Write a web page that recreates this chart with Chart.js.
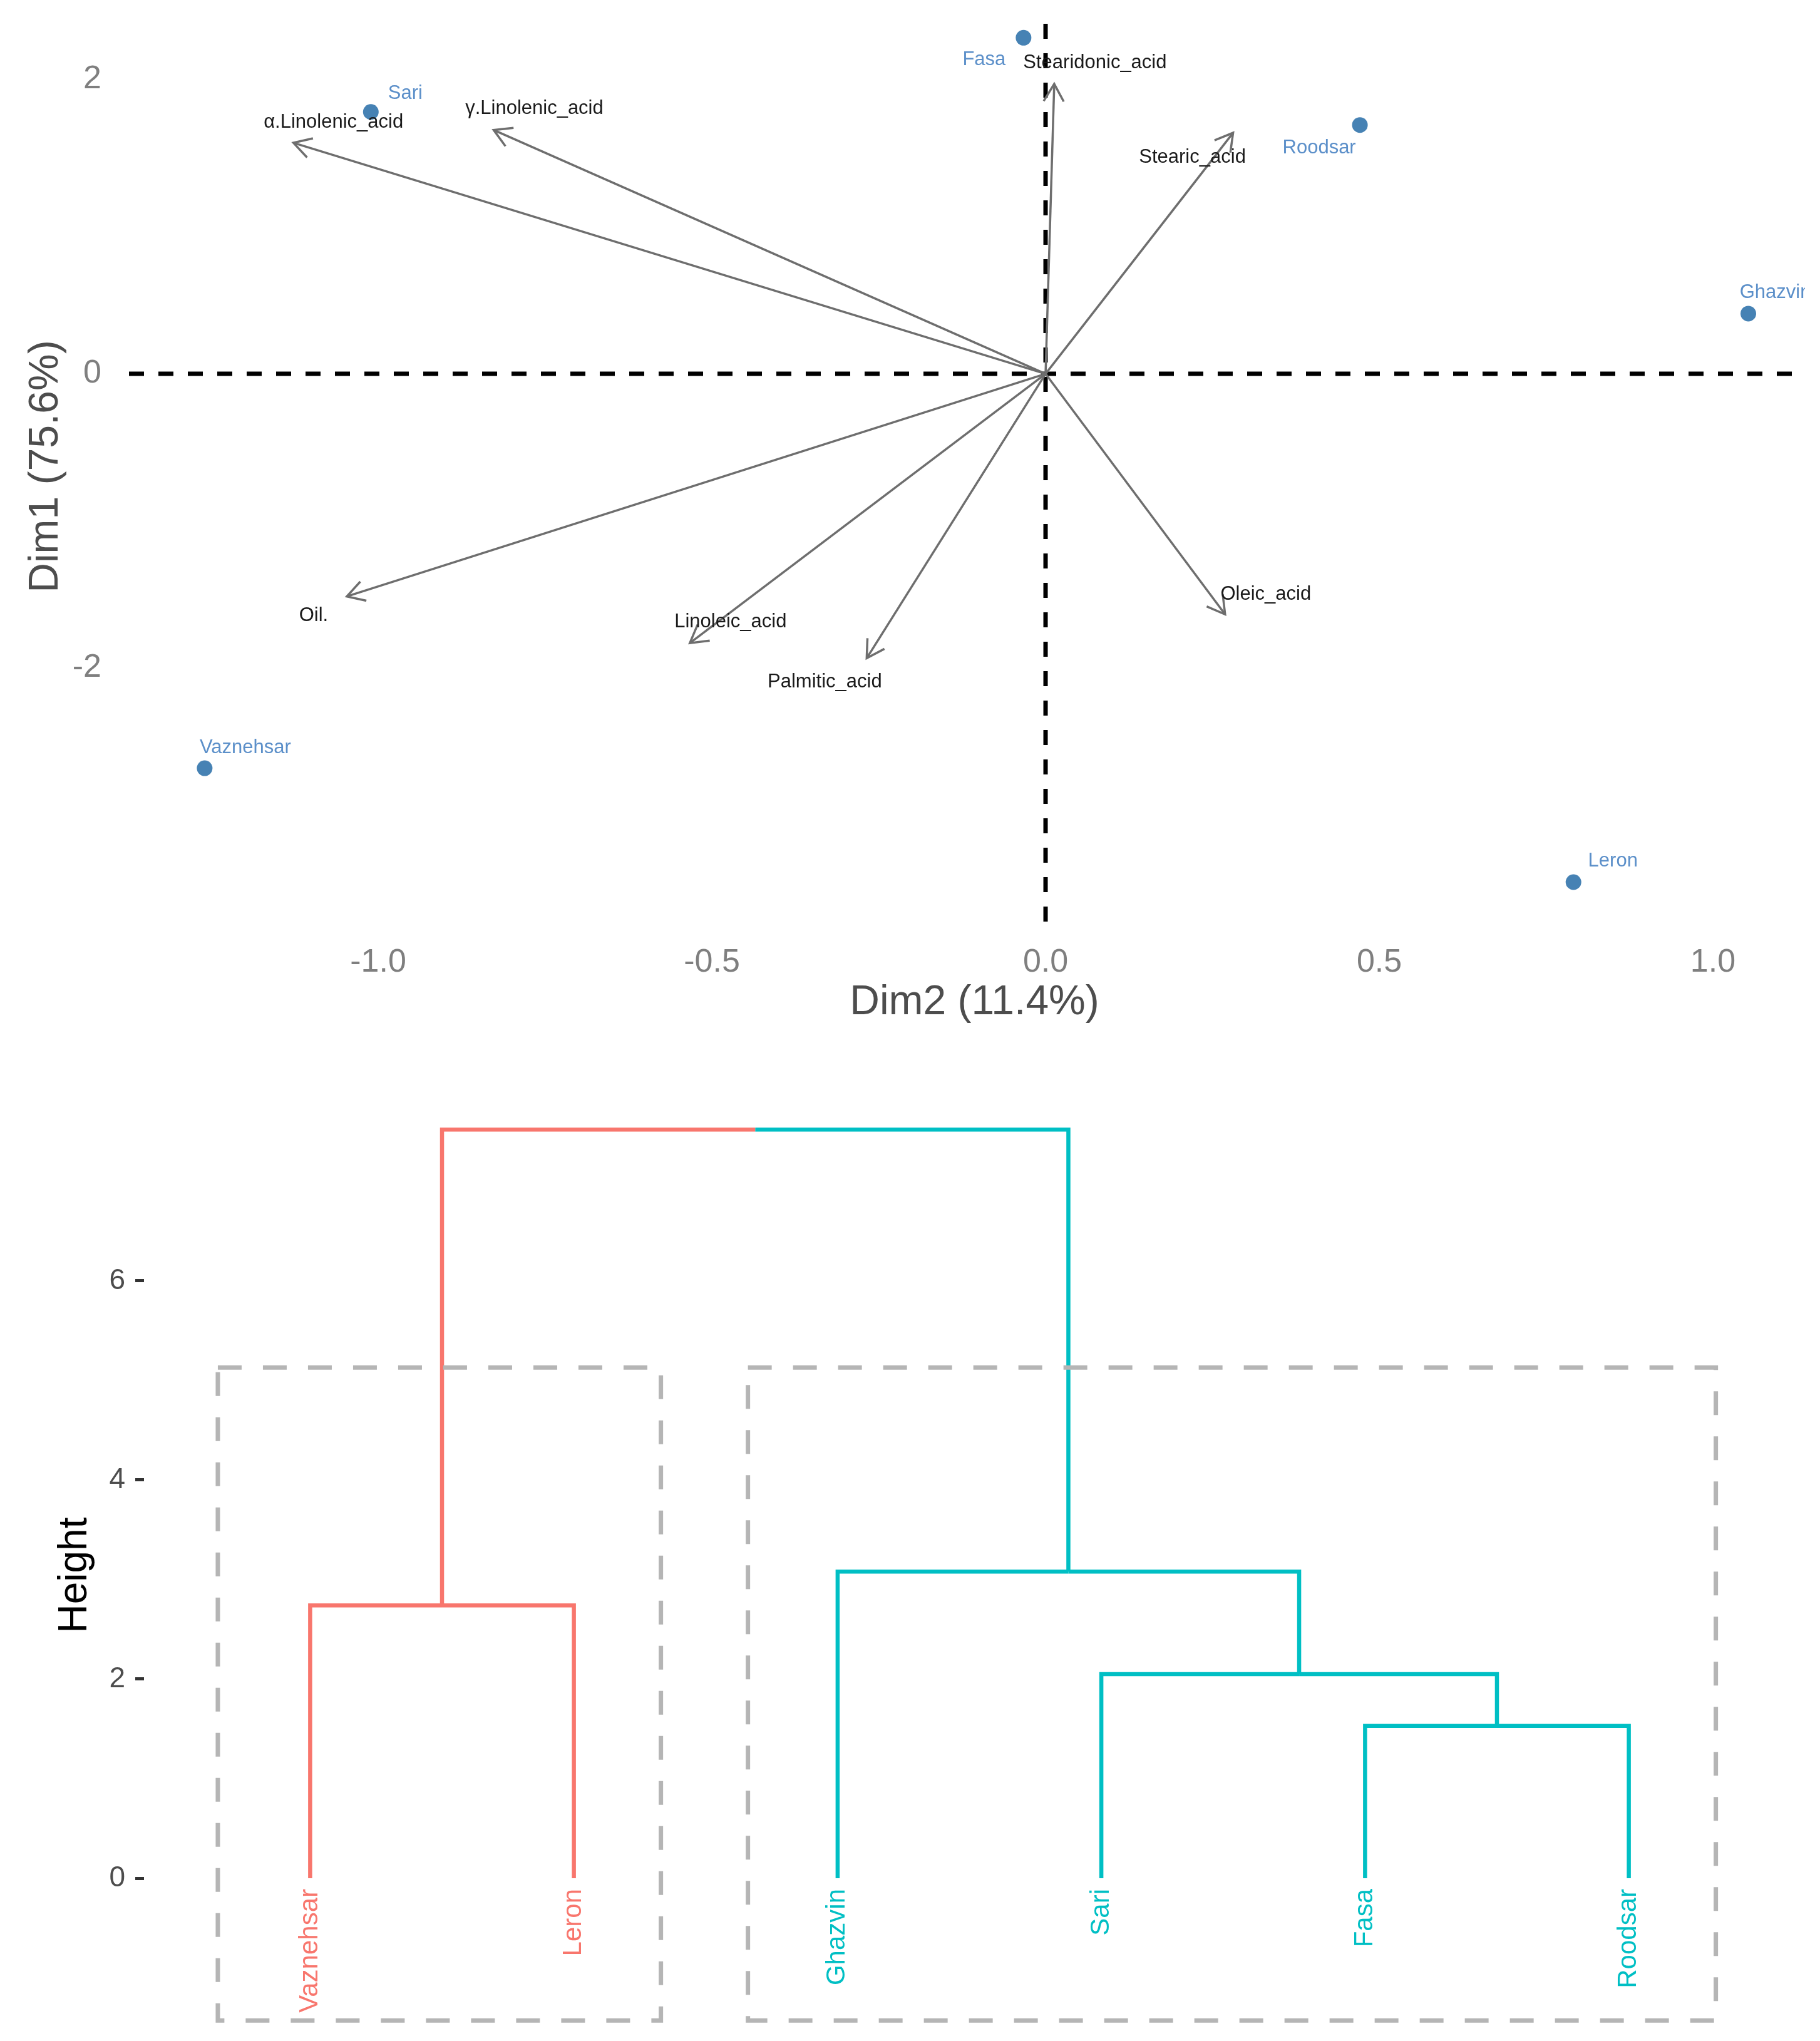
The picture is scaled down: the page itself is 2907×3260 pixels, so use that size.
<!DOCTYPE html>
<html>
<head>
<meta charset="utf-8">
<script src="https://cdn.jsdelivr.net/npm/chart.js@4.4.0/dist/chart.umd.min.js"></script>
<style>
  body { margin: 0; background: #fff; }
  #biplotBox { position: absolute; left: 0; top: 0; }
  #dendroBox { position: absolute; left: 0; top: 1680px; }
</style>
</head>
<body>
<div id="biplotBox"><canvas id="biplot" width="2907" height="1680"></canvas></div>
<div id="dendroBox"><canvas id="dendro" width="2907" height="1580"></canvas></div>
<script>
// PCA BIPLOT DATA
const sites = ["Sari", "Fasa", "Roodsar", "Ghazvin", "Vaznehsar", "Leron"];
const siteDim2 = [-1.011, -0.033, 0.471, 1.053, -1.260, 0.791];
const siteDim1 = [1.780, 2.284, 1.691, 0.409, -2.681, -3.455];

const traits = ["α.Linolenic_acid", "γ.Linolenic_acid", "Stearidonic_acid", "Stearic_acid", "Oil.", "Linoleic_acid", "Palmitic_acid", "Oleic_acid"];
const traitDim2 = [-1.127, -0.827, 0.013, 0.281, -1.047, -0.533, -0.268, 0.269];
const traitDim1 = [1.570, 1.657, 1.970, 1.638, -1.513, -1.830, -1.933, -1.635];

const dim2Ticks = [-1.0, -0.5, 0.0, 0.5, 1.0];
const dim1Ticks = [-2, 0, 2];

// DENDROGRAM DATA
const leaves = ["Vaznehsar", "Leron", "Ghazvin", "Sari", "Fasa", "Roodsar"];
const leafCluster = [0, 0, 1, 1, 1, 1];
// hclust style merges: negative = leaf number, positive = earlier merge row, then height
const merges = [[-5, -6, 1.53], [-4, 1, 2.05], [-1, -2, 2.74], [-3, 2, 3.08], [3, 4, 7.52]];
const heightTicks = [0, 2, 4, 6];
const clusterLeft = [0.65, 2.66];
const clusterRight = [2.33, 6.33];
const clusterTop = [5.13, 5.13];
const clusterBottom = [-1.43, -1.43];

// styles / layout
const FONT = "'Liberation Sans', Arial, sans-serif";
const clusterColors = ['#F8766D', '#00BFC4'];
const arrowColor = '#6e6e6e';
const pointColor = '#4682B4';
const pointLabelColor = '#5b8fc9';
// label nudges in pixels (label centre relative to arrow tip / point)
const traitLabelShift = [[64, -33], [65, -34], [65, -34], [-65, 39], [-53, 31], [65, -34], [-67, 38], [65, -32]];
const siteLabelShift = [[55, -29], [-63, 35], [-65, 37], [43, -33], [65, -33], [63, -34]];

const dim2Min = -1.3734, dim2Max = 1.1604, panelRight = 1.1379;
const dim1Min = -3.723, dim1Max = 2.464;

// keep the plot panel exactly where the layout padding puts it
function noPadX(s) { s.paddingLeft = 0; s.paddingRight = 0; }
function noPadY(s) { s.paddingTop = 0; s.paddingBottom = 0; }

const biplotLabels = {
  id: 'biplotLabels',
  afterDatasetsDraw(chart) {
    const ctx = chart.ctx;
    const x = chart.scales.x, y = chart.scales.y;
    const area = chart.chartArea;
    const clipRight = x.getPixelForValue(panelRight);
    ctx.save();
    ctx.beginPath();
    ctx.rect(area.left, area.top, clipRight - area.left, area.bottom - area.top);
    ctx.clip();

    // arrow heads
    const ox = x.getPixelForValue(0), oy = y.getPixelForValue(0);
    ctx.strokeStyle = arrowColor;
    ctx.lineWidth = 3.5;
    ctx.lineCap = 'butt';
    traits.forEach((name, i) => {
      const tx = x.getPixelForValue(traitDim2[i]);
      const ty = y.getPixelForValue(traitDim1[i]);
      const a = Math.atan2(ty - oy, tx - ox);
      const len = 32, spread = Math.PI / 6;
      ctx.beginPath();
      ctx.moveTo(tx - len * Math.cos(a - spread), ty - len * Math.sin(a - spread));
      ctx.lineTo(tx, ty);
      ctx.lineTo(tx - len * Math.cos(a + spread), ty - len * Math.sin(a + spread));
      ctx.stroke();
    });

    ctx.font = '31px ' + FONT;
    ctx.textAlign = 'center';
    ctx.textBaseline = 'middle';
    ctx.fillStyle = '#1a1a1a';
    traits.forEach((name, i) => {
      const tx = x.getPixelForValue(traitDim2[i]);
      const ty = y.getPixelForValue(traitDim1[i]);
      ctx.fillText(name, tx + traitLabelShift[i][0], ty + traitLabelShift[i][1]);
    });
    ctx.fillStyle = pointLabelColor;
    sites.forEach((name, i) => {
      const px = x.getPixelForValue(siteDim2[i]);
      const py = y.getPixelForValue(siteDim1[i]);
      ctx.fillText(name, px + siteLabelShift[i][0], py + siteLabelShift[i][1]);
    });
    ctx.restore();
  }
};

const biplotCtx = document.getElementById('biplot').getContext('2d');
const biplotChart = new Chart(biplotCtx, {
  type: 'scatter',
  data: {
    datasets: [
      {
        label: 'sites',
        data: sites.map((s, i) => ({x: siteDim2[i], y: siteDim1[i]})),
        backgroundColor: pointColor,
        borderWidth: 0,
        pointRadius: 12.5,
        order: 1,
      },
      ...traits.map((t, i) => ({
        label: t,
        data: [{x: 0, y: 0}, {x: traitDim2[i], y: traitDim1[i]}],
        showLine: true,
        borderColor: arrowColor,
        borderWidth: 3.5,
        pointRadius: 0,
        order: 2,
      })),
      {
        label: 'hline',
        data: [{x: dim2Min, y: 0}, {x: panelRight, y: 0}],
        showLine: true,
        borderColor: '#000',
        borderWidth: 7,
        borderDash: [24, 23],
        pointRadius: 0,
        order: 3,
      },
      {
        label: 'vline',
        data: [{x: 0, y: dim1Min}, {x: 0, y: dim1Max}],
        showLine: true,
        borderColor: '#000',
        borderWidth: 7,
        borderDash: [24, 23],
        pointRadius: 0,
        order: 3,
      },
    ],
  },
  options: {
    responsive: false,
    animation: false,
    devicePixelRatio: 1,
    layout: { autoPadding: false, padding: { top: 18, right: 0, bottom: 0, left: 0 } },
    plugins: { legend: { display: false }, tooltip: { enabled: false } },
    scales: {
      x: {
        type: 'linear',
        min: dim2Min,
        max: dim2Max,
        grid: { display: false },
        border: { display: false },
        afterBuildTicks: s => { s.ticks = dim2Ticks.map(v => ({value: v})); },
        afterFit: s => { s.height = 208; noPadX(s); },
        ticks: { callback: v => v.toFixed(1), color: '#7f7f7f', font: { family: FONT, size: 52 }, padding: 26, maxRotation: 0 },
        title: { display: true, text: 'Dim2 (11.4%)', color: '#4d4d4d', font: { family: FONT, size: 66 }, padding: { top: 0, bottom: 39 } },
      },
      y: {
        type: 'linear',
        min: dim1Min,
        max: dim1Max,
        grid: { display: false },
        border: { display: false },
        afterBuildTicks: s => { s.ticks = dim1Ticks.map(v => ({value: v})); },
        afterFit: s => { s.width = 206; noPadY(s); },
        ticks: { color: '#7f7f7f', font: { family: FONT, size: 52 }, padding: 36 },
        title: { display: true, text: 'Dim1 (75.6%)', color: '#4d4d4d', font: { family: FONT, size: 66 }, padding: { top: 34, bottom: 0 } },
      },
    },
  },
  plugins: [biplotLabels],
});

// DENDROGRAM
const leafX = leaves.map((_, i) => i + 1);
const nodeX = [], nodeH = [], nodeCluster = [];
function childInfo(c) {
  if (c < 0) return { x: leafX[-c - 1], h: 0, cluster: leafCluster[-c - 1] };
  return { x: nodeX[c - 1], h: nodeH[c - 1], cluster: nodeCluster[c - 1] };
}
const branchSets = [];
merges.forEach(([a, b, h]) => {
  const ca = childInfo(a), cb = childInfo(b);
  const mx = (ca.x + cb.x) / 2;
  nodeX.push(mx);
  nodeH.push(h);
  nodeCluster.push(ca.cluster === cb.cluster ? ca.cluster : -1);
  [ca, cb].forEach(c => {
    branchSets.push({
      data: [{x: mx, y: h}, {x: c.x, y: h}, {x: c.x, y: c.h}],
      showLine: true,
      borderColor: clusterColors[c.cluster],
      borderWidth: 6.5,
      borderJoinStyle: 'miter',
      pointRadius: 0,
      order: 2,
    });
  });
});
const rectSets = clusterLeft.map((l, i) => ({
  data: [
    {x: l, y: clusterTop[i]}, {x: clusterRight[i], y: clusterTop[i]},
    {x: clusterRight[i], y: clusterBottom[i]}, {x: l, y: clusterBottom[i]}, {x: l, y: clusterTop[i]},
  ],
  showLine: true,
  borderColor: '#b5b5b5',
  borderWidth: 7,
  borderDash: [38, 34],
  pointRadius: 0,
  order: 1,
}));

const leafLabels = {
  id: 'leafLabels',
  afterDatasetsDraw(chart) {
    const ctx = chart.ctx;
    const x = chart.scales.x, y = chart.scales.y;
    const base = y.getPixelForValue(0) + 17;
    ctx.save();
    ctx.font = '42px ' + FONT;
    ctx.textAlign = 'right';
    ctx.textBaseline = 'middle';
    leaves.forEach((name, i) => {
      ctx.save();
      ctx.translate(x.getPixelForValue(leafX[i]), base);
      ctx.rotate(-Math.PI / 2);
      ctx.fillStyle = clusterColors[leafCluster[i]];
      ctx.fillText(name, 0, 0);
      ctx.restore();
    });
    ctx.restore();
  }
};

const dendroCtx = document.getElementById('dendro').getContext('2d');
const dendroChart = new Chart(dendroCtx, {
  type: 'scatter',
  data: { datasets: [...rectSets, ...branchSets] },
  options: {
    responsive: false,
    animation: false,
    devicePixelRatio: 1,
    layout: { autoPadding: false, padding: { top: 110, right: 40, bottom: 18, left: 0 } },
    plugins: { legend: { display: false }, tooltip: { enabled: false } },
    scales: {
      x: { type: 'linear', min: 0.37, max: 6.63, display: false, afterFit: noPadX },
      y: {
        type: 'linear',
        min: -1.522,
        max: 7.61,
        grid: { drawOnChartArea: false, drawTicks: true, tickLength: 14, tickWidth: 5, tickColor: '#333' },
        border: { display: false },
        afterBuildTicks: s => { s.ticks = heightTicks.map(v => ({value: v})); },
        afterFit: s => { s.width = 230; noPadY(s); },
        ticks: { color: '#4d4d4d', font: { family: FONT, size: 46 }, padding: 16 },
        title: { display: true, text: 'Height', color: '#000', font: { family: FONT, size: 64 }, padding: { top: 82, bottom: 0 } },
      },
    },
  },
  plugins: [leafLabels],
});
</script>
</body>
</html>
